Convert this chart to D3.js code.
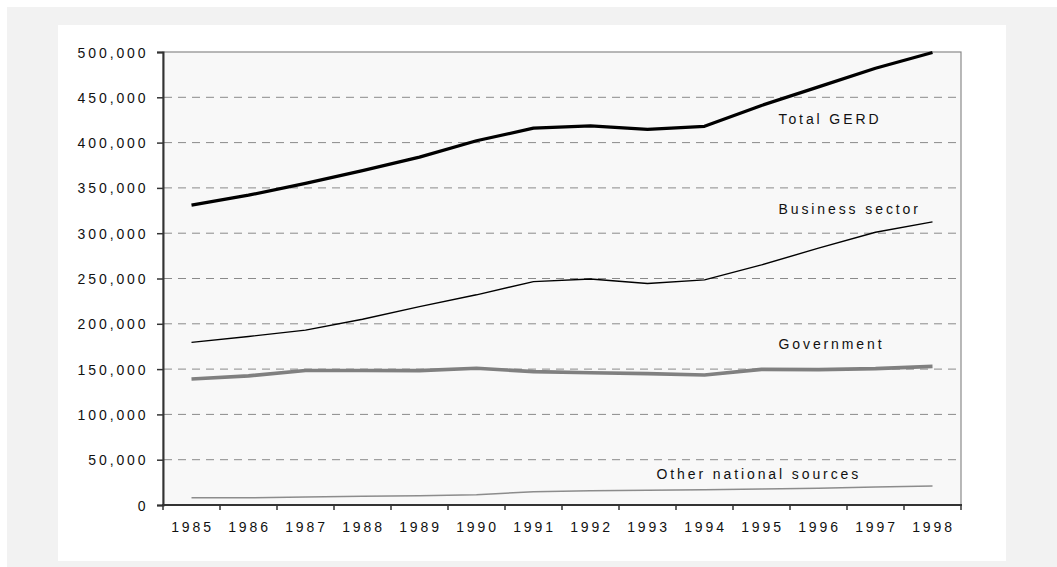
<!DOCTYPE html>
<html>
<head>
<meta charset="utf-8">
<script src="https://cdn.jsdelivr.net/npm/d3@7"></script>
<style>
  html, body { margin: 0; padding: 0; background: #ffffff; }
  svg { display: block; }
  text { font-family: "Liberation Sans", Arial, sans-serif; font-size: 14px; fill: #111; letter-spacing: 2.9px; }
</style>
</head>
<body>
<svg id="chart" width="1057" height="567"></svg>
<script>
// Gross domestic expenditure on R&D by source of funds
const years = ["1985","1986","1987","1988","1989","1990","1991","1992","1993","1994","1995","1996","1997","1998"];
const totalGerd = [331000,342000,355000,369000,384000,402000,416000,418500,414500,418000,441000,461500,482000,499500];
const businessSector = [179500,186000,193000,205000,219000,232000,246500,249500,244500,248500,265000,283500,301000,312500];
const government = [139000,142500,148500,148500,148300,151000,147200,146000,145000,143500,149700,149400,150500,153000];
const otherNational = [8000,8000,8800,9600,10300,11400,14700,15800,16200,16900,17700,18400,19900,21000];
const yTicks = [0,50000,100000,150000,200000,250000,300000,350000,400000,450000,500000];

const seriesList = [
  { name: "Total GERD", values: totalGerd, color: "#000000", width: 3.2, label: { year: "1995", dx: 17, value: 420000 } },
  { name: "Business sector", values: businessSector, color: "#000000", width: 1.4, label: { year: "1995", dx: 17, value: 321000 } },
  { name: "Government", values: government, color: "#808080", width: 3.6, label: { year: "1995", dx: 17, value: 172000 } },
  { name: "Other national sources", values: otherNational, color: "#8c8c8c", width: 1.5, label: { year: "1993", dx: 9, value: 28500 } }
];

const svg = d3.select("#chart");

// outer frame and inner white panel
svg.append("rect").attr("x", 7).attr("y", 7).attr("width", 1050).attr("height", 560).attr("fill", "#f2f2f2");
svg.append("rect").attr("x", 58).attr("y", 25).attr("width", 948).attr("height", 536).attr("fill", "#ffffff");

const plot = { left: 163, right: 961, top: 52, bottom: 505 };

const x = d3.scaleBand().domain(years).range([plot.left, plot.right]).padding(0);
const y = d3.scaleLinear().domain([0, 500000]).range([plot.bottom, plot.top]);
const cx = d => x(d) + x.bandwidth() / 2;

// plot area background with grey border on top/right
svg.append("rect")
  .attr("x", plot.left).attr("y", plot.top)
  .attr("width", plot.right - plot.left).attr("height", plot.bottom - plot.top)
  .attr("fill", "#f8f8f8").attr("stroke", "#8a8a8a").attr("stroke-width", 1.2);

// dashed gridlines
svg.append("g").selectAll("line")
  .data(yTicks.filter(v => v > 0 && v < 500000))
  .join("line")
  .attr("x1", plot.left + 1).attr("x2", plot.right - 4)
  .attr("y1", d => y(d)).attr("y2", d => y(d))
  .attr("stroke", "#8a8a8a").attr("stroke-width", 1)
  .attr("stroke-dasharray", "8,6");

// y axis
const fmt = d3.format(",");
const yAxis = svg.append("g")
  .attr("transform", `translate(${plot.left},0)`)
  .call(d3.axisLeft(y).tickValues(yTicks).tickSize(6).tickPadding(6).tickFormat(fmt));
yAxis.attr("font-size", null).attr("font-family", null);
yAxis.select(".domain").attr("stroke", "#333").attr("stroke-width", 2);
yAxis.selectAll(".tick line").attr("stroke", "#333").attr("stroke-width", 1.5);
yAxis.selectAll(".tick text")
  .attr("x", -14.5).attr("dy", "0.36em").style("fill", "#111");

// x axis: ticks on band boundaries, labels centred in bands
const xAxisG = svg.append("g").attr("transform", `translate(0,${plot.bottom})`);
xAxisG.append("line")
  .attr("x1", plot.left - 1).attr("x2", plot.right + 1)
  .attr("y1", 0).attr("y2", 0)
  .attr("stroke", "#333").attr("stroke-width", 2);
const boundaries = years.map(d => x(d)).concat([x(years[years.length - 1]) + x.bandwidth()]);
xAxisG.selectAll("line.tick")
  .data(boundaries)
  .join("line")
  .attr("class", "tick")
  .attr("x1", d => d).attr("x2", d => d)
  .attr("y1", 0).attr("y2", 5)
  .attr("stroke", "#333").attr("stroke-width", 1.5);
xAxisG.selectAll("text")
  .data(years)
  .join("text")
  .attr("x", d => cx(d) + 1)
  .attr("y", 27)
  .attr("text-anchor", "middle")
  .text(d => d);

// series lines
const line = d3.line().x((d, i) => cx(years[i])).y(d => y(d));
const linesG = svg.append("g");
seriesList.slice().reverse().forEach(s => {
  linesG.append("path")
    .datum(s.values)
    .attr("d", line)
    .attr("fill", "none")
    .attr("stroke", s.color)
    .attr("stroke-width", s.width)
    .attr("stroke-linejoin", "round");
});

// series labels
svg.append("g").selectAll("text")
  .data(seriesList)
  .join("text")
  .attr("x", d => cx(d.label.year) + d.label.dx)
  .attr("y", d => y(d.label.value))
  .text(d => d.name);
</script>
</body>
</html>
